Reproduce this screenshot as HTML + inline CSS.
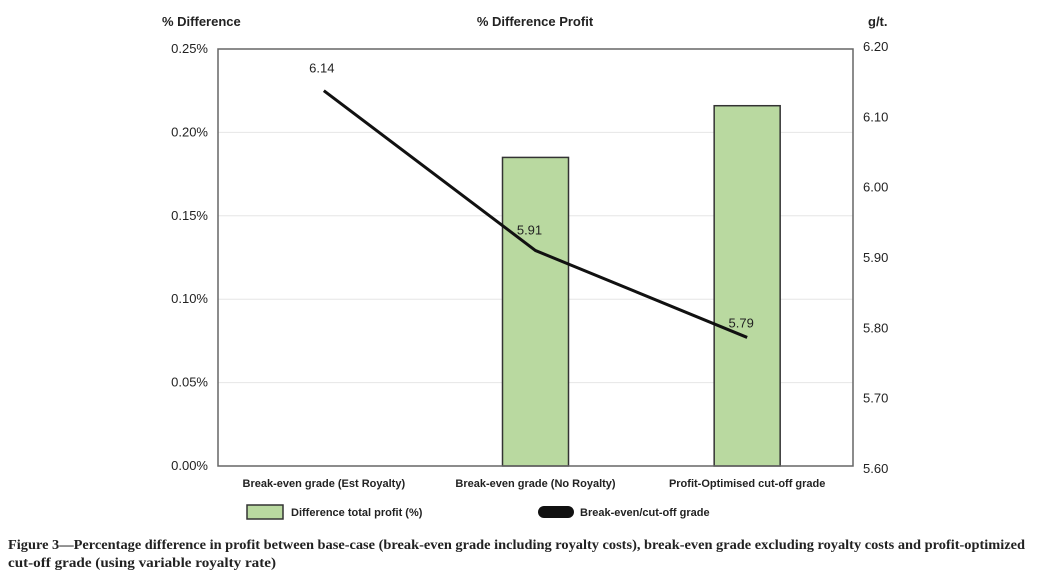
<!DOCTYPE html>
<html><head><meta charset="utf-8"><style>
body{margin:0;background:#fff;width:1041px;height:580px;overflow:hidden;font-family:"Liberation Sans",sans-serif}
</style></head><body>
<svg width="1041" height="580" xmlns="http://www.w3.org/2000/svg" id="chart">
<g id="g"></g>
<text x="162" y="26" font-size="13" font-weight="bold" fill="#222">% Difference</text>
<text x="535" y="26" font-size="13" font-weight="bold" fill="#222" text-anchor="middle">% Difference Profit</text>
<text x="868" y="26" font-size="13" font-weight="bold" fill="#222">g/t.</text>
<rect x="247" y="505" width="36" height="14" fill="#b9d9a0" stroke="#333" stroke-width="1.5"/>
<text x="291" y="516" font-size="11" font-weight="bold" fill="#222">Difference total profit (%)</text>
<rect x="538" y="506" width="36" height="12" rx="6" fill="#111"/>
<text x="580" y="516" font-size="11" font-weight="bold" fill="#222">Break-even/cut-off grade</text>
<text x="8" y="549" font-size="13.5" font-weight="bold" font-family="Liberation Serif, serif" fill="#222" textLength="1017" lengthAdjust="spacingAndGlyphs">Figure 3—Percentage difference in profit between base-case (break-even grade including royalty costs), break-even grade excluding royalty costs and profit-optimized</text>
<text x="8" y="567" font-size="13.5" font-weight="bold" font-family="Liberation Serif, serif" fill="#222" textLength="268" lengthAdjust="spacingAndGlyphs">cut-off grade (using variable royalty rate)</text>
</svg>
<script>
const categories=["Break-even grade (Est Royalty)","Break-even grade (No Royalty)","Profit-Optimised cut-off grade"];
const profitDiff=[0,0.185,0.216];
const grade=[6.14,5.91,5.785];
const gradeLabels=["6.14","5.91","5.79"];
const leftTicks=[0,0.05,0.10,0.15,0.20,0.25];
const rightTicks=[5.6,5.7,5.8,5.9,6.0,6.1,6.2];
const L=218,R=853,T=49,B=466;
const yL=v=>B-(v/0.25)*(B-T);
const yR=v=>B-((v-5.6)/0.6)*(B-T);
const bw=(R-L)/categories.length;
const xC=i=>L+bw*(i+0.5);
const g=document.getElementById('g');const NS="http://www.w3.org/2000/svg";
function mk(t,a){const e=document.createElementNS(NS,t);for(const k in a)e.setAttribute(k,a[k]);g.appendChild(e);return e;}
leftTicks.forEach(v=>{
 if(v>0&&v<0.25){const l=mk('line',{x1:L,x2:R,y1:yL(v),y2:yL(v),stroke:'#e6e6e6'});
 
 }
 const t=mk('text',{x:208,y:yL(v)+4,'font-size':13,'text-anchor':'end',fill:'#222'});t.textContent=v.toFixed(2)+'%';
 
 
});
rightTicks.forEach(v=>{
 const y=(5.6*0+1)*0+ (468-((v-5.6)/0.6)*422);
 const t=mk('text',{x:863,y:y+5,'font-size':13,fill:'#222'});t.textContent=v.toFixed(2);
 
 
});
profitDiff.forEach((v,i)=>{
 if(v<=0)return;
 const r=mk('rect',{x:xC(i)-33,y:yL(v),width:66,height:B-yL(v),fill:'#b9d9a0',stroke:'#333','stroke-width':1.5});
 
 
});
const fr=mk('rect',{x:L,y:T,width:R-L,height:B-T,fill:'none',stroke:'#666','stroke-width':1.5});


const pl=mk('polyline',{points:grade.map((v,i)=>xC(i)+','+yR(v)).join(' '),fill:'none',stroke:'#111','stroke-width':3});


const off=[[-2,-18],[-6,-16],[-6,-10]];
grade.forEach((v,i)=>{
 const t=mk('text',{x:xC(i)+off[i][0],y:yR(v)+off[i][1],'font-size':13,'text-anchor':'middle',fill:'#222'});t.textContent=gradeLabels[i];
 
 
});
categories.forEach((c,i)=>{
 const t=mk('text',{x:xC(i),y:487,'font-size':11,'font-weight':'bold','text-anchor':'middle',fill:'#222'});t.textContent=c;
 
 
});
</script>
</body></html>
